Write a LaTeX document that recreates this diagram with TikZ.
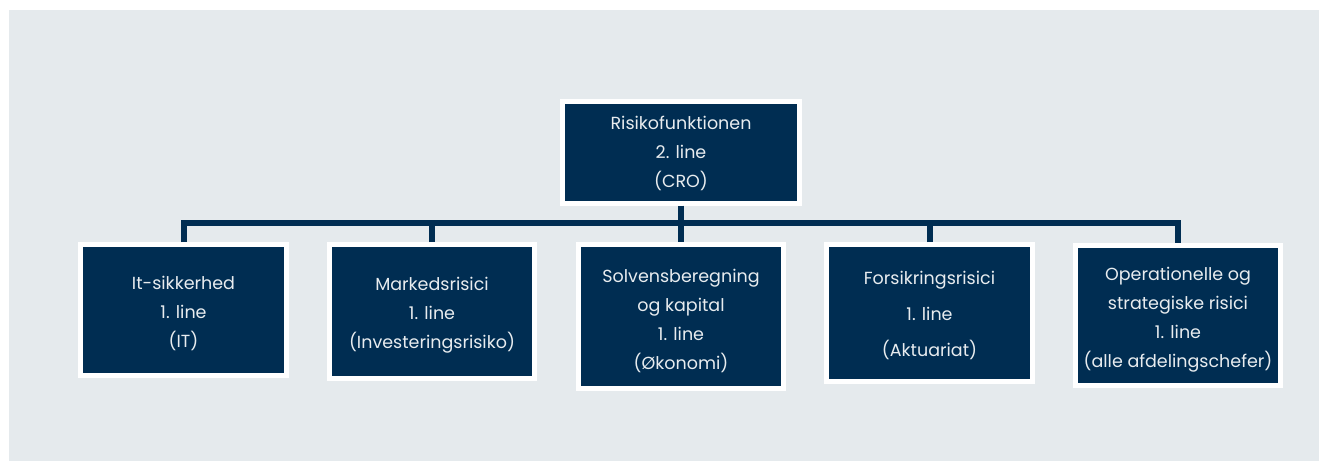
\documentclass[tikz,border=0pt]{standalone}
\usepackage{fontspec}
\setmainfont{Poppins}
\definecolor{navy}{HTML}{002D52}
\definecolor{bgrey}{HTML}{E5EAED}
\definecolor{txt}{HTML}{E8ECEF}
\begin{document}
\begin{tikzpicture}[x=1pt,y=-1pt,
  box/.style={draw=white, line width=5pt, fill=navy, inner sep=0pt},
  boxtext/.style={text=txt, inner sep=0pt, align=center,
    font=\fontsize{17.5}{29}\selectfont},
  conn/.style={draw=navy, line width=6pt, line join=miter}]
\fill[white] (0,0) rectangle (1319,461);
\useasboundingbox (0,0) rectangle (1319,461);
\fill[bgrey] (9,10) rectangle (1319,461);
\node[box, minimum width=237pt, minimum height=102pt,
  label={[boxtext, yshift=-1pt]center:{Risikofunktionen\\2. line\\(CRO)}}] (top) at (681,152) {};
\node[box, minimum width=206pt, minimum height=131pt,
  label={[boxtext, yshift=-3pt]center:{It-sikkerhed\\1. line\\(IT)}}] (b1) at (183.5,310) {};
\node[box, minimum width=205pt, minimum height=134pt,
  label={[boxtext, yshift=-4pt]center:{Markedsrisici\\1. line\\(Investeringsrisiko)}}] (b2) at (432,311.5) {};
\node[box, minimum width=205pt, minimum height=144pt,
  label={[boxtext, yshift=-4pt]center:{Solvensberegning\\og kapital\\1. line\\(Økonomi)}}] (b3) at (681,316.5) {};
\node[box, minimum width=206pt, minimum height=137pt,
  label={[boxtext, yshift=-2pt]center:{Forsikringsrisici\\[7pt]1. line\\[7pt](Aktuariat)}}] (b4) at (929.5,313) {};
\node[box, minimum width=205pt, minimum height=140pt,
  label={[boxtext, yshift=-4.5pt]center:{Operationelle og\\strategiske risici\\1. line\\(alle afdelingschefer)}}] (b5) at (1178,315) {};
\coordinate (bus) at (681,223);
\draw[conn] (b1.north) |- (bus) -| (b5.north);
\draw[conn] (top.south) -- (b3.north);
\draw[conn] (b2.north) -- (b2.north |- bus);
\draw[conn] (b4.north) -- (b4.north |- bus);
\end{tikzpicture}
\end{document}
